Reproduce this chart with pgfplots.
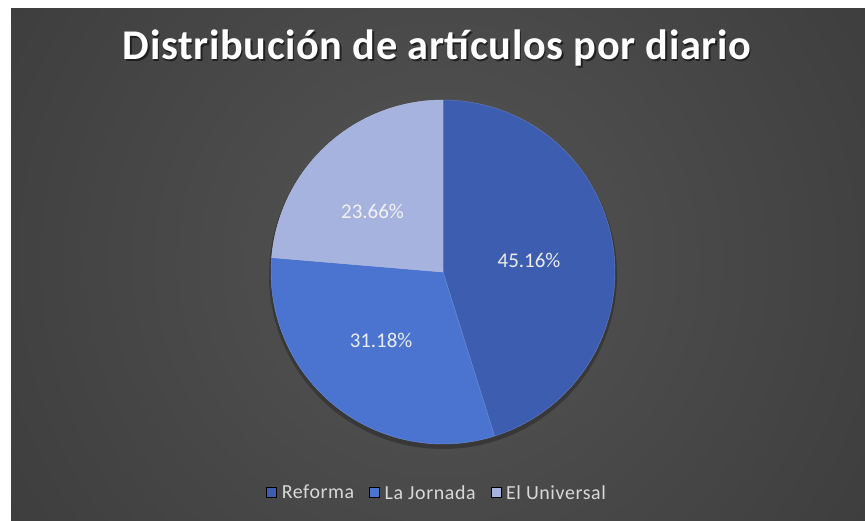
\documentclass[border=0pt]{standalone}
\usepackage{fontspec}
\setmainfont{Carlito}
\usepackage{pgfplots}
\usepackage{pgfplotstable}
\pgfplotsset{compat=1.18}
\definecolor{cA}{HTML}{3D5EB0}
\definecolor{cB}{HTML}{4A74CF}
\definecolor{cC}{HTML}{A6B3DE}
\definecolor{bgin}{HTML}{545454}
\definecolor{bgout}{HTML}{282828}
\definecolor{legtext}{HTML}{D9D9D9}
\pgfplotstableread{
name value
Reforma 45.16
LaJornada 31.18
ElUniversal 23.66
}\piedata
\begin{document}
\begin{tikzpicture}[x=1bp,y=1bp]
\useasboundingbox (0,0) rectangle (865,521);
\fill[white] (0,0) rectangle (865,521);
\begin{scope}
\clip (11,0) rectangle (865,512);
\shade[inner color=bgin, outer color=bgout] (438,260) circle (1000);
\end{scope}
% title
\node[anchor=base, text=black, opacity=0.55, font=\fontsize{42.5}{46}\selectfont\bfseries\addfontfeature{LetterSpace=1.5}] at (438.5,459.5) {Distribución de artículos por diario};
\node[anchor=base, text=white, font=\fontsize{42.5}{46}\selectfont\bfseries\addfontfeature{LetterSpace=1.5}] at (437,461) {Distribución de artículos por diario};
% soft shadow under pie
\fill[black, opacity=0.25] (443,246) circle (174);
\pgfplotstablegetelem{0}{value}\of\piedata \let\va\pgfplotsretval
\pgfplotstablegetelem{1}{value}\of\piedata \let\vb\pgfplotsretval
\pgfplotstablegetelem{2}{value}\of\piedata \let\vc\pgfplotsretval
\pgfmathsetmacro\aA{90}
\pgfmathsetmacro\aB{90-3.6*\va}
\pgfmathsetmacro\aC{\aB-3.6*\vb}
\pgfmathsetmacro\aD{\aC-3.6*\vc}
\begin{axis}[
  hide axis, scale only axis, clip=false,
  width=344bp, height=344bp,
  xmin=-1, xmax=1, ymin=-1, ymax=1,
  at={(271bp,77bp)}, anchor=south west,
  legend columns=3,
  legend style={at={(0.483,-0.142)}, anchor=center, draw=none, fill=none,
    text=legtext, font=\fontsize{20}{23}\selectfont\addfontfeature{LetterSpace=3},
    /tikz/every odd column/.append style={column sep=3bp},
    /tikz/every even column/.append style={column sep=13bp}},
  legend image code/.code={\fill[#1] (0bp,-4bp) rectangle (10bp,6bp);},
]
\addplot[forget plot, fill=cA, draw=cA!80!white, line width=0.4pt, domain=\aB:\aA, samples=120, variable=\t] ({cos(\t)},{sin(\t)}) -- (0,0) -- cycle;
\addplot[forget plot, fill=cB, draw=cB!80!white, line width=0.4pt, domain=\aC:\aB, samples=90, variable=\t] ({cos(\t)},{sin(\t)}) -- (0,0) -- cycle;
\addplot[forget plot, fill=cC, draw=cC!80!white, line width=0.4pt, domain=\aD:\aC, samples=70, variable=\t] ({cos(\t)},{sin(\t)}) -- (0,0) -- cycle;
\node[text=white!92!black, font=\fontsize{21}{24}\selectfont] at (axis cs:0.50,0.07) {45.16\%};
\node[text=white!92!black, font=\fontsize{21}{24}\selectfont] at (axis cs:-0.36,-0.40) {31.18\%};
\node[text=white!95!black, font=\fontsize{21}{24}\selectfont] at (axis cs:-0.41,0.35) {23.66\%};
\addlegendimage{fill=cA}\addlegendentry{Reforma}
\addlegendimage{fill=cB}\addlegendentry{La Jornada}
\addlegendimage{fill=cC}\addlegendentry{El Universal}
\end{axis}
\end{tikzpicture}
\end{document}
